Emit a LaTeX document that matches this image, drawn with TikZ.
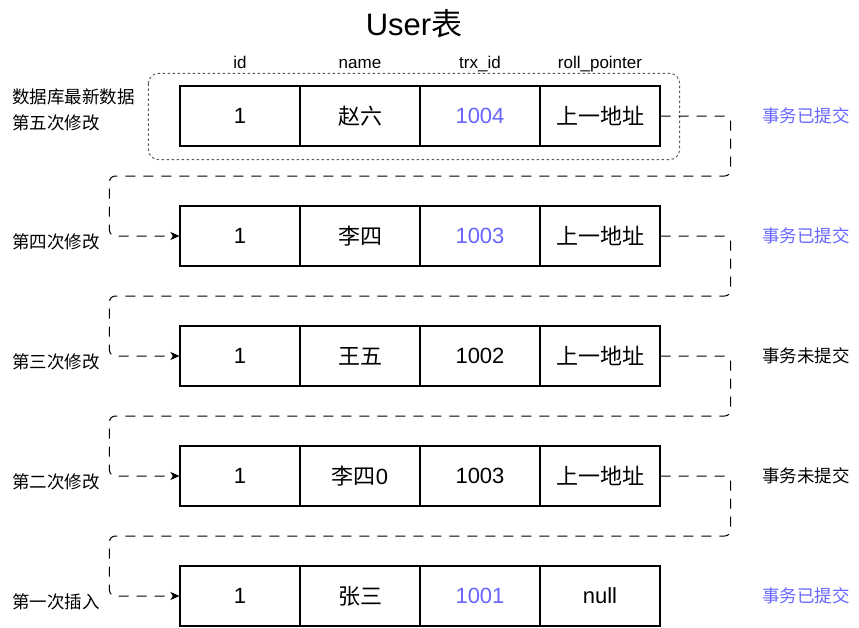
\documentclass[tikz,border=0pt]{standalone}
\usepackage{fontspec}
\setmainfont{Liberation Sans}
\newfontfamily\cjk{Noto Sans CJK SC}
\usepackage{xcolor}
\usetikzlibrary{arrows.meta}

\definecolor{commitblue}{HTML}{6666FF}

\tikzset{
  cell/.style={draw, line width=1.2pt, minimum width=120pt, minimum height=60pt, inner sep=0pt, font=\fontsize{22}{26}\selectfont},
  colhead/.style={anchor=base, font=\fontsize{17}{20}\selectfont},
  rowlabel/.style={anchor=west, align=left, inner sep=0pt, font=\cjk\fontsize{17.5}{26}\selectfont},
  txstate/.style={font=\cjk\fontsize{17.5}{20}\selectfont},
  undolink/.style={line width=1pt, dash pattern=on 10pt off 8pt, rounded corners=6pt, -{Stealth[length=9pt,width=8pt,inset=2.5pt]}},
  latestbox/.style={draw=black!65, line width=1pt, dash pattern=on 2.5pt off 2.5pt, rounded corners=10pt}
}

\begin{document}
\begin{tikzpicture}[x=1pt,y=-1pt]

\useasboundingbox (0,0) rectangle (859,627);

% title and column heads
\node (title) at (414,35) [anchor=base, font=\fontsize{31}{36}\selectfont] {User{\cjk 表}};

\node (hid) at (240,68) [colhead] {id};
\node (hname) at (360,68) [colhead] {name};
\node (htrx) at (480,68) [colhead] {trx\_id};
\node (hptr) at (600,68) [colhead] {roll\_pointer};

% rows
\node (id1) at (240,116) [cell] {1};
\node (name1) at (360,116) [cell] {\cjk 赵六};
\node (trx1) at (480,116) [cell, text=commitblue] {1004};
\node (ptr1) at (600,116) [cell] {\cjk 上一地址};

\node (id2) at (240,236) [cell] {1};
\node (name2) at (360,236) [cell] {\cjk 李四};
\node (trx2) at (480,236) [cell, text=commitblue] {1003};
\node (ptr2) at (600,236) [cell] {\cjk 上一地址};

\node (id3) at (240,356) [cell] {1};
\node (name3) at (360,356) [cell] {\cjk 王五};
\node (trx3) at (480,356) [cell] {1002};
\node (ptr3) at (600,356) [cell] {\cjk 上一地址};

\node (id4) at (240,476) [cell] {1};
\node (name4) at (360,476) [cell] {{\cjk 李四}0};
\node (trx4) at (480,476) [cell] {1003};
\node (ptr4) at (600,476) [cell] {\cjk 上一地址};

\node (id5) at (240,596) [cell] {1};
\node (name5) at (360,596) [cell] {\cjk 张三};
\node (trx5) at (480,596) [cell, text=commitblue] {1001};
\node (ptr5) at (600,596) [cell] {null};

% latest version
\draw[latestbox] ([shift={(-31,-12)}]id1.north west) rectangle ([shift={(19,13)}]ptr1.south east);

% undo chain
\draw[undolink] (ptr1.east) -- ++(70,0) |- ([shift={(-70,-60)}]id2.west) |- (id2.west);
\draw[undolink] (ptr2.east) -- ++(70,0) |- ([shift={(-70,-60)}]id3.west) |- (id3.west);
\draw[undolink] (ptr3.east) -- ++(70,0) |- ([shift={(-70,-60)}]id4.west) |- (id4.west);
\draw[undolink] (ptr4.east) -- ++(70,0) |- ([shift={(-70,-60)}]id5.west) |- (id5.west);

% labels
\node (lab1) at (12,110) [rowlabel] {数据库最新数据\\第五次修改};
\node (lab2) at (12,242) [rowlabel] {第四次修改};
\node (lab3) at (12,362) [rowlabel] {第三次修改};
\node (lab4) at (12,482) [rowlabel] {第二次修改};
\node (lab5) at (12,602) [rowlabel] {第一次插入};

\node (st1) at (806,116) [txstate, text=commitblue] {事务已提交};
\node (st2) at (806,236) [txstate, text=commitblue] {事务已提交};
\node (st3) at (806,356) [txstate] {事务未提交};
\node (st4) at (806,476) [txstate] {事务未提交};
\node (st5) at (806,596) [txstate, text=commitblue] {事务已提交};

\end{tikzpicture}
\end{document}
